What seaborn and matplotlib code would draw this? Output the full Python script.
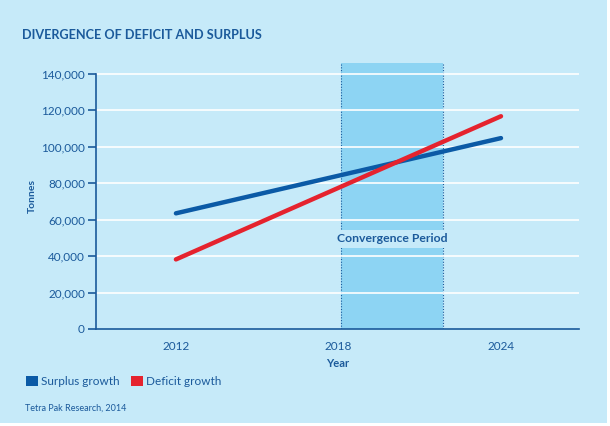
import matplotlib
matplotlib.use("Agg")
import matplotlib.pyplot as plt
import matplotlib.patches as mpatches
import seaborn as sns
import pandas as pd

years = [2012, 2024]
surplus = [63500, 104800]
deficit = [38200, 116800]
series_names = ["Surplus growth", "Deficit growth"]
yticks = [0, 20000, 40000, 60000, 80000, 100000, 120000, 140000]
xticks = [2012, 2018, 2024]
conv_start, conv_end = 2018.1, 2021.85

BG = "#c6eaf9"
SHADE = "#8dd4f3"
TXT = "#1b5a9b"
colors = {"Surplus growth": "#0b5aa6", "Deficit growth": "#e5232e"}

df = pd.DataFrame({
    "Year": years * 2,
    "Tonnes": surplus + deficit,
    "Series": [series_names[0]] * len(years) + [series_names[1]] * len(years),
})

sns.set_theme(style="white")
plt.rcParams["font.family"] = ["Lato", "DejaVu Sans"]

fig = plt.figure(figsize=(6.1, 4.26), dpi=100, facecolor="white")
fig.patches.append(mpatches.Rectangle((0, 0.006), 0.995, 0.994, transform=fig.transFigure,
                                      facecolor=BG, edgecolor="none", zorder=-10))
ax = fig.add_axes([0.1574, 0.2277, 0.7918, 0.6243])
ax.set_facecolor(BG)
ax.patch.set_alpha(0)

ax.set_xlim(2009.05, 2026.88)
ax.set_ylim(0, 146000)

for y in yticks[1:]:
    ax.axhline(y, color="white", lw=1.2, zorder=1)

ax.axvspan(conv_start, conv_end, color=SHADE, zorder=0.5, lw=0)
for xv in (conv_start, conv_end):
    ax.axvline(xv, color=TXT, lw=0.8, ls=(0, (1, 1.5)), zorder=0.6)

sns.lineplot(data=df, x="Year", y="Tonnes", hue="Series", palette=colors, lw=3.2,
             ax=ax, legend=False, zorder=3, solid_capstyle="round")

ax.text((conv_start + conv_end) / 2, 49500, "Convergence Period", ha="center", va="center",
        fontsize=8.8, fontweight="bold", color=TXT, zorder=2,
        bbox=dict(boxstyle="square,pad=0.3", facecolor=BG, edgecolor="none"))

for s in ["top", "right"]:
    ax.spines[s].set_visible(False)
ax.spines["left"].set_bounds(0, 140000)
ax.spines["left"].set_color(TXT)
ax.spines["bottom"].set_color(TXT)
ax.spines["left"].set_linewidth(1.2)
ax.spines["bottom"].set_linewidth(1.2)

ax.set_yticks(yticks)
ax.set_yticklabels([f"{v:,}" for v in yticks])
ax.set_xticks(xticks)
ax.set_xticklabels([str(x) for x in xticks])
ax.tick_params(axis="y", length=6, width=1.2, color=TXT, labelcolor=TXT, labelsize=8.5, pad=2, left=True)
ax.tick_params(axis="x", length=0, labelcolor=TXT, labelsize=8.5, pad=9)

ax.set_xlabel("Year", fontsize=8, fontweight="bold", color=TXT, labelpad=4)
ax.set_ylabel("Tonnes", fontsize=7.5, fontweight="bold", color=TXT, labelpad=3)

fig.text(0.036, 0.918, "DIVERGENCE OF DEFICIT AND SURPLUS", fontsize=9.1, fontweight="bold",
         color=TXT, ha="left", va="center")

handles = [mpatches.Patch(facecolor=colors[n], edgecolor="none", label=n) for n in series_names]
leg = fig.legend(handles=handles, loc="center left", bbox_to_anchor=(0.043, 0.105), ncol=2,
                 frameon=False, fontsize=8.5, handlelength=1.0, handleheight=1.0,
                 handletextpad=0.25, columnspacing=1.0, borderaxespad=0, borderpad=0)
for t in leg.get_texts():
    t.set_color(TXT)

fig.text(0.041, 0.042, "Tetra Pak Research, 2014", fontsize=6.5, color=TXT, ha="left", va="center")

fig.savefig("out.png", dpi=100, facecolor=fig.get_facecolor())
